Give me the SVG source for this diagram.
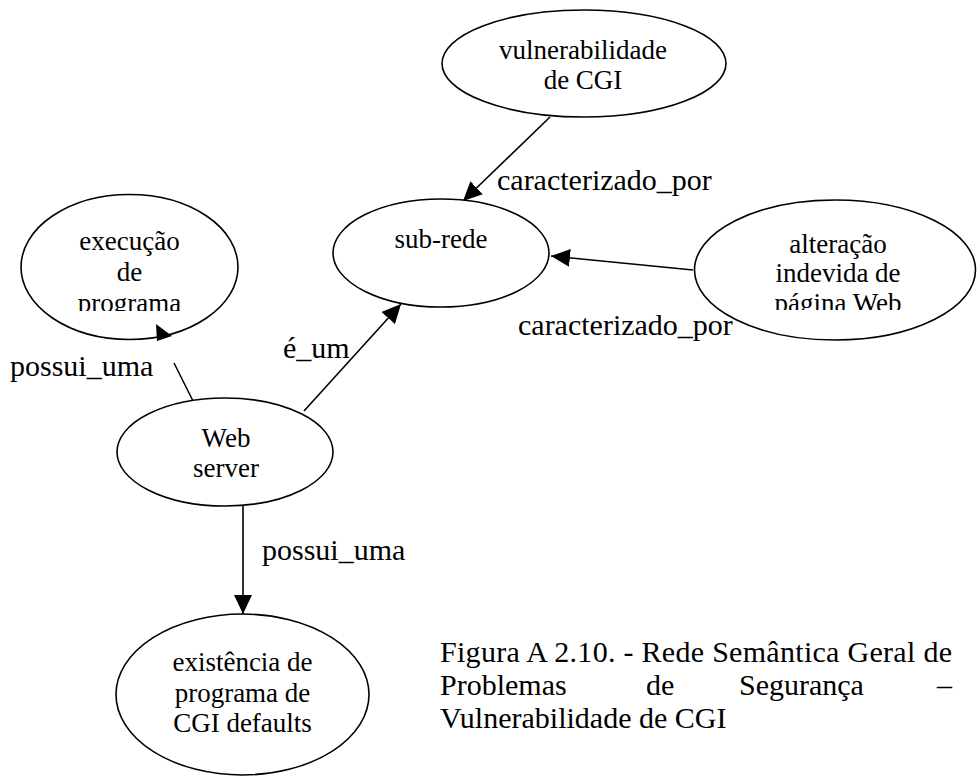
<svg xmlns="http://www.w3.org/2000/svg" width="977" height="778" viewBox="0 0 977 778">
  <style>
    .node { fill: #ffffff; stroke: #000000; stroke-width: 1.6; }
    .ntext { font-family: "Liberation Serif", "Times New Roman", serif; font-size: 27px; fill: #000000; text-anchor: middle; }
    .elabel { font-family: "Liberation Serif", "Times New Roman", serif; font-size: 30px; fill: #000000; }
    .caption { font-family: "Liberation Serif", "Times New Roman", serif; font-size: 30px; fill: #000000; }
    .edge { stroke: #000000; stroke-width: 1.6; fill: none; }
    .head { fill: #000000; stroke: none; }
  </style>
  <defs>
    <marker id="arrow" viewBox="0 0 19 18" refX="19" refY="9" markerWidth="19" markerHeight="18" markerUnits="userSpaceOnUse" orient="auto">
      <path class="head" d="M0,0 L19,9 L0,18 Z"/>
    </marker>
    <clipPath id="clip-exec"><rect x="0" y="200" width="260" height="111"/></clipPath>
    <clipPath id="clip-alt"><rect x="700" y="210" width="270" height="100"/></clipPath>
  </defs>

  <rect width="977" height="778" fill="#ffffff"/>

  <!-- connectors -->
  <g id="connectors">
    <line class="edge" x1="550" y1="117" x2="463" y2="201" marker-end="url(#arrow)"/>
    <line class="edge" x1="693" y1="270" x2="551" y2="256" marker-end="url(#arrow)"/>
    <line class="edge" x1="304" y1="411" x2="401" y2="304" marker-end="url(#arrow)"/>
    <line class="edge" x1="243" y1="506" x2="243" y2="614" marker-end="url(#arrow)"/>
    <line class="edge" x1="193" y1="401" x2="174" y2="363"/>
  </g>

  <!-- nodes -->
  <g id="node-vulnerabilidade">
    <ellipse class="node" cx="584" cy="63.5" rx="142" ry="53.5"/>
    <text class="ntext" x="583" y="59">vulnerabilidade</text>
    <text class="ntext" x="583" y="89">de CGI</text>
  </g>

  <g id="node-subrede">
    <ellipse class="node" cx="441" cy="253" rx="108" ry="54"/>
    <text class="ntext" x="441" y="248">sub-rede</text>
  </g>

  <g id="node-alteracao">
    <ellipse class="node" cx="835" cy="270" rx="140.5" ry="70"/>
    <g clip-path="url(#clip-alt)">
      <text class="ntext" x="838" y="253">alteração</text>
      <text class="ntext" x="838" y="282">indevida de</text>
      <text class="ntext" x="838" y="312">página Web</text>
    </g>
  </g>

  <g id="node-execucao">
    <ellipse class="node" cx="129.5" cy="267" rx="108.5" ry="72.5"/>
    <g clip-path="url(#clip-exec)">
      <text class="ntext" x="129.5" y="250">execução</text>
      <text class="ntext" x="129.5" y="281">de</text>
      <text class="ntext" x="129.5" y="312">programa</text>
    </g>
    <!-- arrowhead of the possui_uma link, resting on the outline -->
    <polygon class="head" points="156,324 172,336 157,341"/>
  </g>

  <g id="node-webserver">
    <ellipse class="node" cx="225" cy="452" rx="108" ry="54"/>
    <text class="ntext" x="226" y="447">Web</text>
    <text class="ntext" x="226" y="477">server</text>
  </g>

  <g id="node-existencia">
    <ellipse class="node" cx="242.5" cy="694.5" rx="126.5" ry="80.5"/>
    <text class="ntext" x="242.5" y="671">existência de</text>
    <text class="ntext" x="242.5" y="702">programa de</text>
    <text class="ntext" x="242.5" y="732">CGI defaults</text>
  </g>

  <!-- connector labels -->
  <g id="labels">
    <text class="elabel" x="497" y="190">caracterizado_por</text>
    <text class="elabel" x="518" y="335">caracterizado_por</text>
    <text class="elabel" x="283" y="358">é_um</text>
    <text class="elabel" x="10" y="376">possui_uma</text>
    <text class="elabel" x="262" y="560">possui_uma</text>
  </g>

  <!-- figure caption (justified) -->
  <g id="caption">
    <text class="caption" x="440" y="662" textLength="512" lengthAdjust="spacing">Figura A 2.10. - Rede Semântica Geral de</text>
    <text class="caption" x="440" y="695">Problemas</text>
    <text class="caption" x="646" y="695">de</text>
    <text class="caption" x="739" y="695">Segurança</text>
    <text class="caption" x="952" y="695" text-anchor="end">–</text>
    <text class="caption" x="440" y="728">Vulnerabilidade de CGI</text>
  </g>
</svg>
